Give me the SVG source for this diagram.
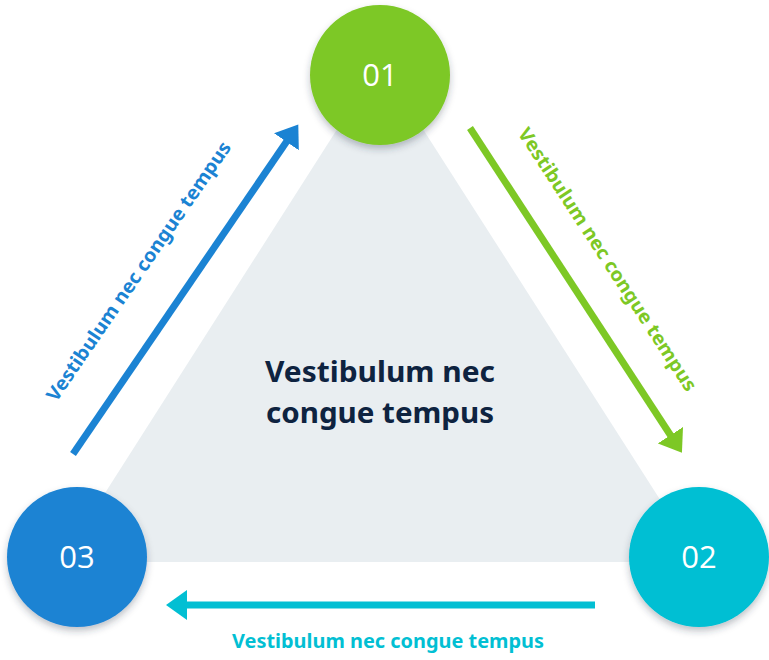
<svg xmlns="http://www.w3.org/2000/svg" width="769" height="660" viewBox="0 0 769 660">
  <defs>
    <filter id="shadow" x="-20%" y="-20%" width="140%" height="150%">
      <feDropShadow dx="0" dy="4" stdDeviation="3.5" flood-color="#2a3a4a" flood-opacity="0.3"/>
    </filter>
    <marker id="hBlue" markerUnits="userSpaceOnUse" markerWidth="22" markerHeight="30" refX="1" refY="15" orient="auto" viewBox="0 0 22 30">
      <path d="M0,0 L21,15 L0,30 z" fill="#1b83d3"/>
    </marker>
    <marker id="hGreen" markerUnits="userSpaceOnUse" markerWidth="22" markerHeight="30" refX="1" refY="15" orient="auto" viewBox="0 0 22 30">
      <path d="M0,0 L21,15 L0,30 z" fill="#7dc825"/>
    </marker>
    <marker id="hCyan" markerUnits="userSpaceOnUse" markerWidth="22" markerHeight="30" refX="1" refY="15" orient="auto" viewBox="0 0 22 30">
      <path d="M0,0 L21,15 L0,30 z" fill="#02bfd3"/>
    </marker>
  </defs>
  <style>
    .num { font-family: "Open Sans", "Noto Sans", sans-serif; font-size: 31px; fill: #ffffff; text-anchor: middle; }
    .lbl { font-family: "Noto Sans", "Open Sans", sans-serif; font-size: 19px; font-weight: 700; text-anchor: middle; }
    .center { font-family: "Noto Sans", "Open Sans", sans-serif; font-size: 29px; font-weight: 700; fill: #0e2340; text-anchor: middle; }
    .conn { fill: none; stroke-width: 7; }
  </style>
  <rect width="769" height="660" fill="#ffffff"/>

  <g id="triangle">
    <polygon points="380,62 61,562 700,562" fill="#e9eef1"/>
    <text class="center" x="380" y="382" textLength="230" lengthAdjust="spacingAndGlyphs">Vestibulum nec</text>
    <text class="center" x="380" y="423" textLength="228" lengthAdjust="spacingAndGlyphs">congue tempus</text>
  </g>

  <g id="connectors">
    <line class="conn" x1="73" y1="454" x2="287" y2="141" stroke="#1b83d3" marker-end="url(#hBlue)"/>
    <line class="conn" x1="470" y1="128" x2="671" y2="436" stroke="#7dc825" marker-end="url(#hGreen)"/>
    <line class="conn" x1="595" y1="605" x2="186" y2="605" stroke="#02bfd3" marker-end="url(#hCyan)"/>
    <text class="lbl" fill="#1b83d3" x="144" y="275" transform="rotate(-55.5 144 275)" textLength="310" lengthAdjust="spacingAndGlyphs">Vestibulum nec congue tempus</text>
    <text class="lbl" fill="#7dc825" x="602" y="263" transform="rotate(56.9 602 263)" textLength="310" lengthAdjust="spacingAndGlyphs">Vestibulum nec congue tempus</text>
    <text class="lbl" fill="#02bfd3" x="388" y="648" textLength="312" lengthAdjust="spacingAndGlyphs">Vestibulum nec congue tempus</text>
  </g>

  <g id="node01">
    <circle cx="380" cy="75" r="70" fill="#7dc825" filter="url(#shadow)"/>
    <text class="num" x="380" y="86">01</text>
  </g>
  <g id="node02">
    <circle cx="699" cy="557" r="70" fill="#02bfd3" filter="url(#shadow)"/>
    <text class="num" x="699" y="568">02</text>
  </g>
  <g id="node03">
    <circle cx="77" cy="557" r="70" fill="#1b83d3" filter="url(#shadow)"/>
    <text class="num" x="77" y="568">03</text>
  </g>
</svg>
